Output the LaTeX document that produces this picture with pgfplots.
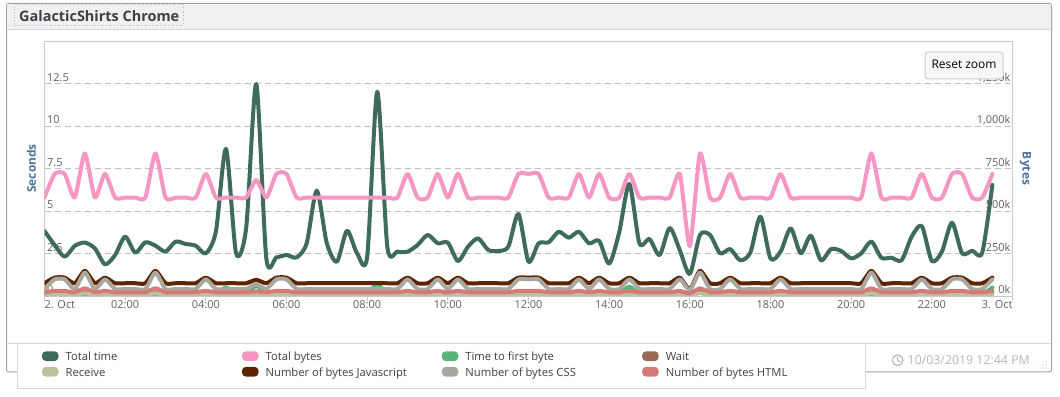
\documentclass[border=0pt]{standalone}
\usepackage{fontspec}
\setmainfont{Open Sans}
\usepackage{pgfplots}
\pgfplotsset{compat=1.18}
\usepackage{pgfplotstable}

\definecolor{cTT}{RGB}{63,106,94}
\definecolor{cTB}{RGB}{245,150,196}
\definecolor{cTTFB}{RGB}{85,182,118}
\definecolor{cWait}{RGB}{149,106,86}
\definecolor{cRecv}{RGB}{187,193,156}
\definecolor{cJS}{RGB}{94,36,0}
\definecolor{cCSS}{RGB}{168,167,160}
\definecolor{cHTML}{RGB}{216,121,121}
\definecolor{axtitle}{RGB}{77,114,160}
\definecolor{ticklab}{RGB}{96,96,96}
\definecolor{gridc}{RGB}{192,192,192}
\definecolor{axlinec}{RGB}{200,200,200}
\definecolor{tickc}{RGB}{192,200,210}
\definecolor{panelc}{RGB}{160,164,168}
\definecolor{titlebg}{RGB}{240,240,240}
\definecolor{titlec}{RGB}{60,64,72}
\definecolor{sepc}{RGB}{212,218,220}
\definecolor{legtext}{RGB}{64,64,64}
\definecolor{stampc}{RGB}{184,184,184}
\definecolor{btnborder}{RGB}{204,204,204}
\definecolor{btnfill}{RGB}{247,247,247}

% seconds: total time, time to first byte, wait, receive
\pgfplotstableread{
h tt ttfb wait recv
0 3.82 0.10 0.16 0.06
0.25 3.00 0.10 0.16 0.09
0.5 2.31 0.10 0.16 0.09
0.75 2.95 0.10 0.16 0.06
1 3.14 0.10 0.20 0.16
1.25 2.80 0.10 0.16 0.06
1.5 1.86 0.10 0.16 0.09
1.75 2.41 0.10 0.16 0.06
2 3.49 0.10 0.16 0.06
2.25 2.55 0.10 0.16 0.06
2.5 3.16 0.10 0.16 0.06
2.75 2.96 0.10 0.20 0.16
3 2.61 0.10 0.16 0.06
3.25 3.20 0.10 0.16 0.06
3.5 3.06 0.10 0.16 0.06
3.75 2.96 0.10 0.16 0.06
4 2.51 0.10 0.16 0.09
4.25 3.80 0.12 0.16 0.06
4.5 8.65 0.50 0.16 0.06
4.75 2.51 0.10 0.16 0.06
5 4.00 0.12 0.16 0.06
5.25 12.47 0.60 0.16 0.08
5.5 2.21 0.10 0.16 0.06
5.75 2.27 0.10 0.16 0.09
6 2.41 0.10 0.16 0.09
6.25 2.27 0.10 0.16 0.06
6.5 3.10 0.10 0.16 0.06
6.75 6.20 0.10 0.16 0.06
7 3.10 0.10 0.16 0.06
7.25 2.02 0.10 0.16 0.06
7.5 3.84 0.10 0.16 0.06
7.75 2.51 0.10 0.16 0.06
8 2.31 0.12 0.16 0.06
8.25 12.02 0.70 0.16 0.06
8.5 2.90 0.10 0.16 0.06
8.75 2.61 0.10 0.16 0.06
9 2.61 0.10 0.16 0.09
9.25 3.00 0.10 0.16 0.06
9.5 3.59 0.10 0.16 0.06
9.75 3.10 0.10 0.16 0.09
10 3.14 0.10 0.16 0.06
10.25 2.06 0.10 0.16 0.09
10.5 2.90 0.10 0.16 0.06
10.75 3.39 0.10 0.16 0.06
11 2.71 0.10 0.16 0.06
11.25 2.65 0.10 0.16 0.06
11.5 2.90 0.10 0.16 0.06
11.75 4.82 0.10 0.16 0.09
12 2.02 0.10 0.16 0.09
12.25 3.10 0.10 0.16 0.09
12.5 3.16 0.10 0.16 0.06
12.75 3.78 0.10 0.16 0.06
13 3.43 0.10 0.16 0.06
13.25 3.78 0.10 0.16 0.09
13.5 3.10 0.10 0.16 0.06
13.75 3.25 0.10 0.16 0.09
14 1.90 0.10 0.16 0.06
14.25 3.76 0.12 0.16 0.06
14.5 6.59 0.55 0.16 0.09
14.75 3.10 0.10 0.16 0.06
15 3.35 0.10 0.16 0.06
15.25 2.41 0.10 0.16 0.06
15.5 4.00 0.10 0.16 0.06
15.75 2.71 0.10 0.16 0.09
16 1.30 0.10 0.12 0.04
16.25 3.59 0.35 0.20 0.16
16.5 3.59 0.10 0.16 0.06
16.75 2.51 0.10 0.16 0.06
17 2.76 0.10 0.16 0.09
17.25 2.10 0.10 0.16 0.06
17.5 2.55 0.10 0.16 0.06
17.75 4.67 0.10 0.16 0.06
18 2.20 0.10 0.16 0.06
18.25 2.61 0.10 0.16 0.09
18.5 3.98 0.10 0.16 0.06
18.75 2.51 0.10 0.16 0.06
19 3.55 0.10 0.16 0.06
19.25 2.10 0.10 0.16 0.06
19.5 2.76 0.10 0.16 0.06
19.75 2.65 0.10 0.16 0.06
20 2.21 0.10 0.16 0.06
20.25 2.51 0.10 0.16 0.06
20.5 3.20 0.10 0.20 0.16
20.75 2.25 0.10 0.16 0.06
21 2.25 0.10 0.16 0.06
21.25 2.10 0.10 0.16 0.06
21.5 3.49 0.10 0.16 0.06
21.75 4.12 0.10 0.16 0.09
22 2.06 0.10 0.16 0.06
22.25 2.61 0.10 0.16 0.06
22.5 4.31 0.10 0.16 0.09
22.75 2.51 0.10 0.16 0.09
23 2.66 0.10 0.16 0.06
23.25 2.55 0.10 0.16 0.06
23.5 6.53 0.50 0.16 0.09
}\secdata

% bytes (k): total bytes, javascript, css, html
\pgfplotstableread{
h tb js css html
0 579 75 41 22
0.25 718 108 98 30
0.5 718 108 98 30
0.75 579 75 41 22
1 839 148 138 45
1.25 579 75 41 22
1.5 718 108 98 30
1.75 579 75 41 22
2 579 75 41 22
2.25 579 75 41 22
2.5 579 75 41 22
2.75 839 148 138 45
3 579 75 41 22
3.25 579 75 41 22
3.5 579 75 41 22
3.75 579 75 41 22
4 718 108 98 30
4.25 579 75 41 22
4.5 579 75 41 22
4.75 579 75 41 22
5 579 75 41 22
5.25 682 95 70 27
5.5 579 75 41 22
5.75 718 108 98 30
6 718 108 98 30
6.25 579 75 41 22
6.5 579 75 41 22
6.75 579 75 41 22
7 579 75 41 22
7.25 579 75 41 22
7.5 579 75 41 22
7.75 579 75 41 22
8 579 75 41 22
8.25 579 75 41 22
8.5 579 75 41 22
8.75 579 75 41 22
9 718 108 98 30
9.25 579 75 41 22
9.5 579 75 41 22
9.75 718 108 98 30
10 579 75 41 22
10.25 718 108 98 30
10.5 579 75 41 22
10.75 579 75 41 22
11 579 75 41 22
11.25 579 75 41 22
11.5 579 75 41 22
11.75 718 108 98 30
12 718 108 98 30
12.25 718 108 98 30
12.5 579 75 41 22
12.75 579 75 41 22
13 579 75 41 22
13.25 718 108 98 30
13.5 579 75 41 22
13.75 718 108 98 30
14 579 75 41 22
14.25 579 75 41 22
14.5 718 108 98 30
14.75 579 75 41 22
15 579 75 41 22
15.25 579 75 41 22
15.5 579 75 41 22
15.75 718 108 98 30
16 294 40 35 15
16.25 839 148 138 45
16.5 579 75 41 22
16.75 579 75 41 22
17 718 108 98 30
17.25 579 75 41 22
17.5 579 75 41 22
17.75 579 75 41 22
18 579 75 41 22
18.25 718 108 98 30
18.5 579 75 41 22
18.75 579 75 41 22
19 579 75 41 22
19.25 579 75 41 22
19.5 579 75 41 22
19.75 579 75 41 22
20 579 75 41 22
20.25 579 75 41 22
20.5 839 148 138 45
20.75 579 75 41 22
21 579 75 41 22
21.25 579 75 41 22
21.5 579 75 41 22
21.75 718 108 98 30
22 579 75 41 22
22.25 579 75 41 22
22.5 718 108 98 30
22.75 718 108 98 30
23 579 75 41 22
23.25 579 75 41 22
23.5 718 108 98 30
}\bytedata

\newcommand{\tickfont}{\fontsize{11}{13}\selectfont}
\newcommand{\legfont}{\fontsize{11.3}{13}\selectfont}
\pgfplotsset{
  series/.style={line width=4bp, smooth, tension=0.45, line join=round, line cap=round},
  bseries/.style={line width=4bp, smooth, tension=0.38, line join=round, line cap=round},
}

\begin{document}
\begin{tikzpicture}
\path[use as bounding box] (0,0) rectangle (1060bp,397bp);
\begin{scope}[yshift=397bp, x=1bp, y=-1bp]
  \fill[white] (0,0) rectangle (1060,397);
  \draw[panelc, line width=1bp, fill=white, rounded corners=2bp] (6.5,3.5) rectangle (1051.5,372);
  \fill[titlebg] (7,4) rectangle (1051,29.5);
  \draw[sepc, line width=1bp] (7,29.5) -- (1051,29.5);
  \draw[gray!55, dotted, line width=0.7bp] (14,4) rectangle (183,25);
  \node[anchor=base west, inner sep=0pt, font=\fontsize{14.5}{16}\selectfont\bfseries, text=titlec] at (19,21.5) {GalacticShirts Chrome};
  \draw[sepc, line width=1bp] (7,343.8) -- (1051,343.8);
\end{scope}

\begin{axis}[
  at={(44.5bp,101bp)}, anchor=south west,
  scale only axis, width=968bp, height=255bp,
  xmin=0, xmax=24, ymin=0, ymax=15,
  axis line style={draw=axlinec, line width=0.8bp},
  xtick={0,2,...,24},
  xticklabels={{\makebox[0pt][l]{2. Oct}},02:00,04:00,06:00,08:00,10:00,12:00,14:00,16:00,18:00,20:00,22:00,{\makebox[0pt][r]{3. Oct}}},
  xtick pos=left,
  major tick length=5bp,
  xtick style={draw=tickc, line width=0.8bp, yshift=-5bp},
  ytick={0,2.5,5,7.5,10,12.5,15},
  yticklabels={0,2.5,5,7.5,10,12.5,{}},
  ytick style={draw=none},
  ymajorgrids,
  major grid style={draw=gridc, dash pattern=on 6bp off 4bp, line width=0.8bp},
  xticklabel style={anchor=base, inner sep=0pt, yshift=-12.3bp, font=\tickfont, text=ticklab},
  yticklabel style={anchor=base west, inner sep=0pt, xshift=2.5bp, yshift=2.3bp, font=\tickfont, text=ticklab},
  every axis y label/.style={at={(axis description cs:0,0.5)}, xshift=-13bp, rotate=90, anchor=center, font=\fontsize{12}{14}\selectfont\bfseries, text=axtitle},
  ylabel={Seconds},
  /pgf/number format/assume math mode=true,
]
\addplot[series, cTT] table[x=h, y=tt]{\secdata};
\addplot[series, cTTFB] table[x=h, y=ttfb]{\secdata};
\addplot[series, cWait] table[x=h, y=wait]{\secdata};
\addplot[series, cRecv] table[x=h, y=recv]{\secdata};
\end{axis}

\begin{axis}[
  at={(44.5bp,101bp)}, anchor=south west,
  scale only axis, width=968bp, height=255bp,
  xmin=0, xmax=24, ymin=0, ymax=1500,
  axis x line=none, axis y line*=right,
  axis line style={draw=none},
  ytick={0,250,500,750,1000,1250},
  yticklabels={0k,250k,500k,750k,{1,000k},{1,250k}},
  ytick style={draw=none},
  yticklabel style={anchor=base east, inner sep=0pt, xshift=-2bp, yshift=2.3bp, font=\tickfont, text=ticklab},
  every axis y label/.style={at={(axis description cs:1,0.5)}, xshift=13bp, rotate=-90, anchor=center, font=\fontsize{12}{14}\selectfont\bfseries, text=axtitle},
  ylabel={Bytes},
]
\addplot[bseries, cTB] table[x=h, y=tb]{\bytedata};
\addplot[bseries, cJS] table[x=h, y=js]{\bytedata};
\addplot[bseries, cCSS] table[x=h, y=css]{\bytedata};
\addplot[bseries, cHTML] table[x=h, y=html]{\bytedata};
\end{axis}

\begin{scope}[yshift=397bp, x=1bp, y=-1bp]
  % legend
  \draw[sepc, line width=1bp, fill=white] (17.5,343.8) rectangle (865.5,389);
  \newcommand{\legitem}[4]{%
    \fill[#3, rounded corners=4bp] (#1,#2-9) rectangle (#1+16.5,#2+0.8);
    \node[anchor=base west, inner sep=0pt, font=\legfont, text=legtext] at (#1+23.4,#2+0.5) {#4};}
  \legitem{42}{360.3}{cTT}{Total time}
  \legitem{242}{360.3}{cTB}{Total bytes}
  \legitem{441.8}{360.3}{cTTFB}{Time to first byte}
  \legitem{642.2}{360.3}{cWait}{Wait}
  \legitem{42}{375.8}{cRecv}{Receive}
  \legitem{242}{375.8}{cJS}{Number of bytes Javascript}
  \legitem{441.8}{375.8}{cCSS}{Number of bytes CSS}
  \legitem{642.2}{375.8}{cHTML}{Number of bytes HTML}
  % timestamp
  \draw[stampc, line width=1.2bp] (897.6,360.3) circle (5.3);
  \draw[stampc, line width=1.1bp] (897.6,356.8) -- (897.6,360.3) -- (900.3,362.2);
  \node[anchor=base west, inner sep=0pt, font=\fontsize{12.4}{14}\selectfont, text=stampc] at (907.5,364.6) {10/03/2019 12:44 PM};
  % resize grip
  \foreach \p in {(1046,362),(1043,365),(1046,365),(1040,368),(1043,368),(1046,368)}
    \fill[gray!60] \p circle (0.6);
  % reset zoom button
  \draw[btnborder, line width=1bp, fill=btnfill, rounded corners=3bp] (925,52) rectangle (1003,79);
  \node[anchor=base, inner sep=0pt, font=\fontsize{12}{14}\selectfont, text=black] at (964,68.8) {Reset zoom};
\end{scope}
\end{tikzpicture}
\end{document}
